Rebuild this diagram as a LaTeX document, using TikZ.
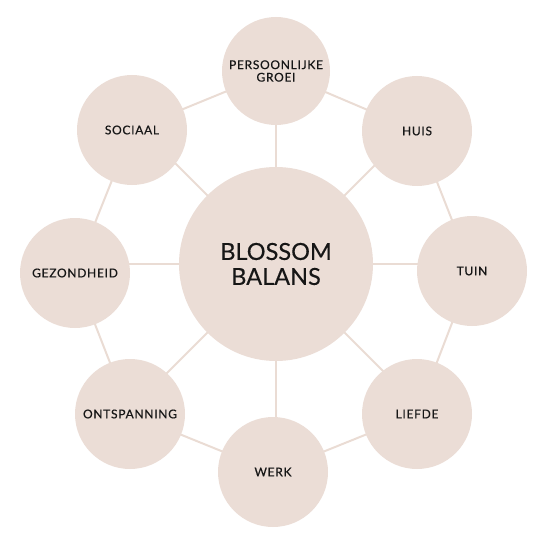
\documentclass[tikz,border=0pt]{standalone}
\usepackage{fontspec}
\usetikzlibrary{backgrounds,calc}
\newfontfamily\lato[LetterSpace=6,FakeBold=0.6]{Lato}
\newfontfamily\latoc[FakeBold=0.3]{Lato}
\definecolor{blush}{HTML}{EBDDD6}
\definecolor{linec}{HTML}{EADCD4}
\definecolor{ink}{HTML}{161616}
\begin{document}
\begin{tikzpicture}[x=1pt,y=-1pt,
  outer/.style={circle,fill=blush,minimum size=110pt,inner sep=0pt,text=ink,align=center,
     font=\lato\fontsize{12}{12.5}\selectfont},
  hub/.style={circle,fill=blush,minimum size=194pt,inner sep=0pt,text=ink,align=center,
     font=\latoc\fontsize{23.5}{25}\selectfont},
  link/.style={draw=linec,line width=2pt}]
\useasboundingbox (0,0) rectangle (547,548);
\node[hub] (c) at (276,264) {BLOSSOM\\BALANS};
\node[outer,minimum size=108pt] (pg) at (276,71) {PERSOONLIJKE\\GROEI};
\node[outer] (hu) at (417,131) {HUIS};
\node[outer] (tu) at (472,271) {TUIN};
\node[outer] (li) at (417,414) {LIEFDE};
\node[outer] (we) at (273,472) {WERK};
\node[outer] (on) at (130,414) {ONTSPANNING};
\node[outer] (ge) at (75,273) {GEZONDHEID};
\node[outer] (so) at (132,130) {SOCIAAL};
\begin{scope}[on background layer]
\foreach \a/\n in {90/pg,45/hu,0/tu,-45/li,-90/we,-135/on,180/ge,135/so}
  {\draw[link] (c.center) -- ($(c.center)+(\a:190pt)$);}
\draw[link] (pg.center) -- (hu.center) -- (tu.center) -- (li.center) -- (we.center)
  -- (on.center) -- (ge.center) -- (so.center) -- (pg.center);
\end{scope}
\end{tikzpicture}
\end{document}
